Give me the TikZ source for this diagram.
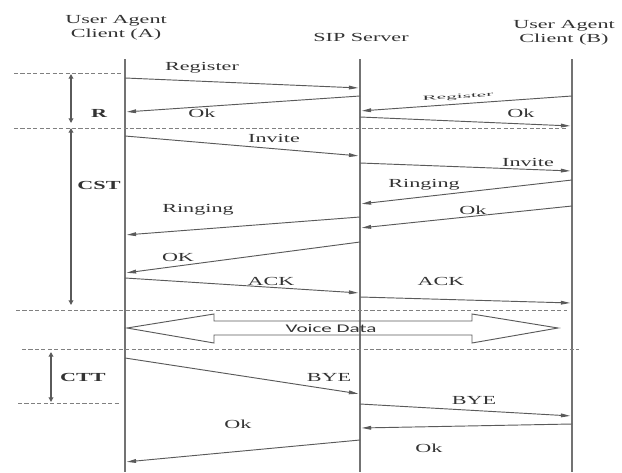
\documentclass[tikz,border=0pt]{standalone}
\usepackage{fontspec}
\setmainfont{Liberation Serif}
\newfontfamily\voicefont{Carlito}
\usetikzlibrary{arrows.meta}
\definecolor{linegray}{HTML}{5A5A5A}
\definecolor{textgray}{HTML}{333333}
\newcommand{\wide}[1]{\scalebox{1.8}[1]{#1}}
\tikzset{
  life/.style={draw=linegray!85, line width=1.5pt},
  msg/.style={draw=linegray, line width=0.8pt, shorten >=1.5pt,
    -{Triangle[length=8pt,width=3.2pt]}},
  divider/.style={draw=gray, line width=0.6pt, dash pattern=on 3.5pt off 2pt},
  phase/.style={draw=linegray, line width=1pt,
    {Triangle[length=4pt,width=4pt]}-{Triangle[length=4pt,width=4pt]}},
  lbl/.style={text=textgray, font=\fontsize{10.5}{12}\selectfont, inner sep=1pt},
  phaselbl/.style={lbl, font=\fontsize{10.5}{12}\selectfont\bfseries},
}

\begin{document}
\begin{tikzpicture}[x=0.03cm, y=-0.03cm]
  \useasboundingbox (0,0) rectangle (622,472);

  % headers
  \node[lbl, align=center] (hA) at (116,28) {\wide{User Agent}\\\wide{Client (A)}};
  \node[lbl] (hS) at (361,37) {\wide{SIP Server}};
  \node[lbl, align=center] (hB) at (564,33) {\wide{User Agent}\\\wide{Client (B)}};

  % lifelines
  \coordinate (A) at (125,59);
  \coordinate (S) at (360,59);
  \coordinate (B) at (572,59);
  \draw[life] (A) -- (A |- 0,472);
  \draw[life] (S) -- (S |- 0,472);
  \draw[life] (B) -- (B |- 0,472);

  % phase dividers
  \draw[divider] (14,73) -- (121,73);
  \draw[divider] (14,128) -- (567,128);
  \draw[divider] (16,310) -- (567,310);
  \draw[divider] (22,349) -- (579,349);
  \draw[divider] (18,403) -- (121,403);

  % phase spans
  \coordinate (r1) at (71,74);  \coordinate (r2) at (71,123);
  \coordinate (c1) at (71,128); \coordinate (c2) at (71,305);
  \coordinate (t1) at (51,352); \coordinate (t2) at (51,402);
  \draw[phase] (r1) -- (r2);
  \draw[phase] (c1) -- (c2);
  \draw[phase] (t1) -- (t2);
  \node[phaselbl] (R) at (99,113) {\wide{R}};
  \node[phaselbl] (CST) at (99,185) {\wide{CST}};
  \node[phaselbl] (CTT) at (83,377) {\wide{CTT}};

  % registration
  \draw[msg] (A |- 0,78) -- (S |- 0,88);
  \node[lbl] (m1) at (202,68) {\wide{Register}};
  \draw[msg] (S |- 0,96) -- (A |- 0,112);
  \node[lbl] (m2) at (202,113) {\wide{Ok}};
  \draw[msg] (B |- 0,96) -- (S |- 0,111);
  \node[lbl, font=\fontsize{5.5}{6}\selectfont, rotate=3] (m3) at (458,97) {\scalebox{3.3}[1]{Register}};
  \draw[msg] (S |- 0,117) -- (B |- 0,126);
  \node[lbl] (m4) at (521,113) {\wide{Ok}};

  % call setup
  \draw[msg] (A |- 0,136) -- (S |- 0,156);
  \node[lbl] (m5) at (274,138) {\wide{Invite}};
  \draw[msg] (S |- 0,163) -- (B |- 0,171);
  \node[lbl] (m6) at (528,162) {\wide{Invite}};
  \draw[msg] (B |- 0,180) -- (S |- 0,204);
  \node[lbl] (m7) at (424,185) {\wide{Ringing}};
  \draw[msg] (B |- 0,206) -- (S |- 0,228);
  \node[lbl] (m8) at (473,210) {\wide{Ok}};
  \draw[msg] (S |- 0,217) -- (A |- 0,235);
  \node[lbl] (m9) at (198,210) {\wide{Ringing}};
  \draw[msg] (S |- 0,242) -- (A |- 0,273);
  \node[lbl] (m10) at (178,257) {\wide{OK}};
  \draw[msg] (A |- 0,278) -- (S |- 0,293);
  \node[lbl] (m11) at (271,281) {\wide{ACK}};
  \draw[msg] (S |- 0,297) -- (B |- 0,303);
  \node[lbl] (m12) at (441,281) {\wide{ACK}};

  % voice data
  \draw[linegray, line width=0.8pt] (127,328) -- (214,314) -- (214,321) -- (472,321)
    -- (472,314) -- (558,328) -- (472,343) -- (472,335) -- (214,335) -- (214,343) -- cycle;
  \node[text=textgray, font=\voicefont\fontsize{10}{12}\selectfont, inner sep=1pt] (vd) at (331,329) {\wide{Voice Data}};

  % teardown
  \draw[msg] (A |- 0,358) -- (S |- 0,394);
  \node[lbl] (m13) at (329,377) {\wide{BYE}};
  \draw[msg] (S |- 0,404) -- (B |- 0,416);
  \node[lbl] (m14) at (474,400) {\wide{BYE}};
  \draw[msg] (B |- 0,424) -- (S |- 0,428);
  \node[lbl] (m15) at (429,448) {\wide{Ok}};
  \draw[msg] (S |- 0,440) -- (A |- 0,462);
  \node[lbl] (m16) at (238,424) {\wide{Ok}};
\end{tikzpicture}
\end{document}
